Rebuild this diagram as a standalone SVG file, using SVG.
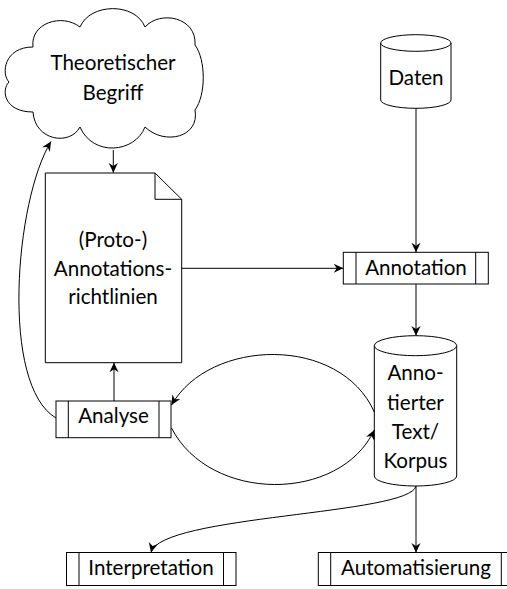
<svg xmlns="http://www.w3.org/2000/svg" width="507" height="589" viewBox="0 0 507 589">
<style>
.s{fill:#fff;stroke:#000;stroke-width:1}
.l{fill:none;stroke:#000;stroke-width:1}
.t{font-family:Lato,"Noto Sans",sans-serif;font-size:20.6px;fill:#000;text-anchor:middle}
.c{fill:none;stroke:#000;stroke-width:1;marker-end:url(#ah)}
</style>
<defs>
<marker id="ah" markerUnits="userSpaceOnUse" markerWidth="12" markerHeight="12" viewBox="-9 -5 10 10" refX="0" refY="0" orient="auto">
<path d="M0,0 L-8,-3.8 L-5.5,0 L-8,3.8 Z" fill="#000"/>
</marker>
</defs>
<rect width="507" height="589" fill="#fff"/>
<g id="cloud">
<path class="s" d="M33,47 C30,23 62,13 80,27 C90,3 135,2 145,27 C160,10 197,17 195,45 C206,60 206,95 195,110 C200,137 165,146 145,127 C135,153 93,157 80,127 C70,146 35,141 33,112 C4,112 1,90 9,82 C1,74 4,47 33,47 Z"/>
<text class="t" x="113" y="70">Theoretischer</text>
<text class="t" x="113" y="100">Begriff</text>
</g>
<g id="daten">
<path class="s" d="M380.7,43 L380.7,100 A35.15,8.3 0 0 0 451,100 L451,43"/>
<ellipse class="s" cx="415.85" cy="43" rx="35.15" ry="8.3"/>
<text class="t" x="416" y="85">Daten</text>
</g>
<g id="richtlinien">
<path class="s" d="M45.3,173 L155,173 L181.7,199.3 L181.7,362.7 L45.3,362.7 Z"/>
<path class="l" d="M155,173 L155,199.3 L181.7,199.3"/>
<text class="t" x="113" y="247">(Proto-)</text>
<text class="t" x="113" y="275.5">Annotations-</text>
<text class="t" x="113" y="304">richtlinien</text>
</g>
<g id="annotation">
<rect class="s" x="343.3" y="252.3" width="145" height="31.7"/>
<path class="l" d="M356,252.3 V284 M475.7,252.3 V284"/>
<text class="t" x="416" y="275">Annotation</text>
</g>
<g id="korpus">
<path class="s" d="M374.3,345.7 L374.3,476 A41.2,10 0 0 0 456.7,476 L456.7,345.7"/>
<ellipse class="s" cx="415.5" cy="345.7" rx="41.2" ry="10"/>
<text class="t" x="415.5" y="380">Anno-</text>
<text class="t" x="415.5" y="409.5">tierter</text>
<text class="t" x="415.5" y="439">Text/</text>
<text class="t" x="415.5" y="468">Korpus</text>
</g>
<g id="analyse">
<rect class="s" x="56" y="401" width="115" height="36.7"/>
<path class="l" d="M68.3,401 V437.7 M159,401 V437.7"/>
<text class="t" x="113.5" y="423.3">Analyse</text>
</g>
<g id="interpretation">
<rect class="s" x="66.5" y="552.5" width="169.5" height="33"/>
<path class="l" d="M79,552.5 V585.5 M223.5,552.5 V585.5"/>
<text class="t" x="151" y="575">Interpretation</text>
</g>
<g id="automatisierung">
<rect class="s" x="318.3" y="552.5" width="195.4" height="33"/>
<path class="l" d="M330.7,552.5 V585.5 M501.3,552.5 V585.5"/>
<text class="t" x="416" y="575">Automatisierung</text>
</g>
<g id="connectors">
<path class="c" d="M113.3,150 L113.3,172.7"/>
<path class="c" d="M181.7,268.3 L343.3,268.3"/>
<path class="c" d="M416,108.3 L416,252.3"/>
<path class="c" d="M416,284 L416,335.7"/>
<path class="c" d="M374.3,412 C340,335 210,338 171.5,405"/>
<path class="c" d="M171.5,428 C210,503 340,503 374.3,430"/>
<path class="c" d="M114,401 L114,362.7"/>
<path class="c" d="M56,418 C0,385 15,200 51,141.5"/>
<path class="c" d="M416,486 C410,515 160,515 151,552.5"/>
<path class="c" d="M416,486 L416,552.5"/>
</g>
</svg>
